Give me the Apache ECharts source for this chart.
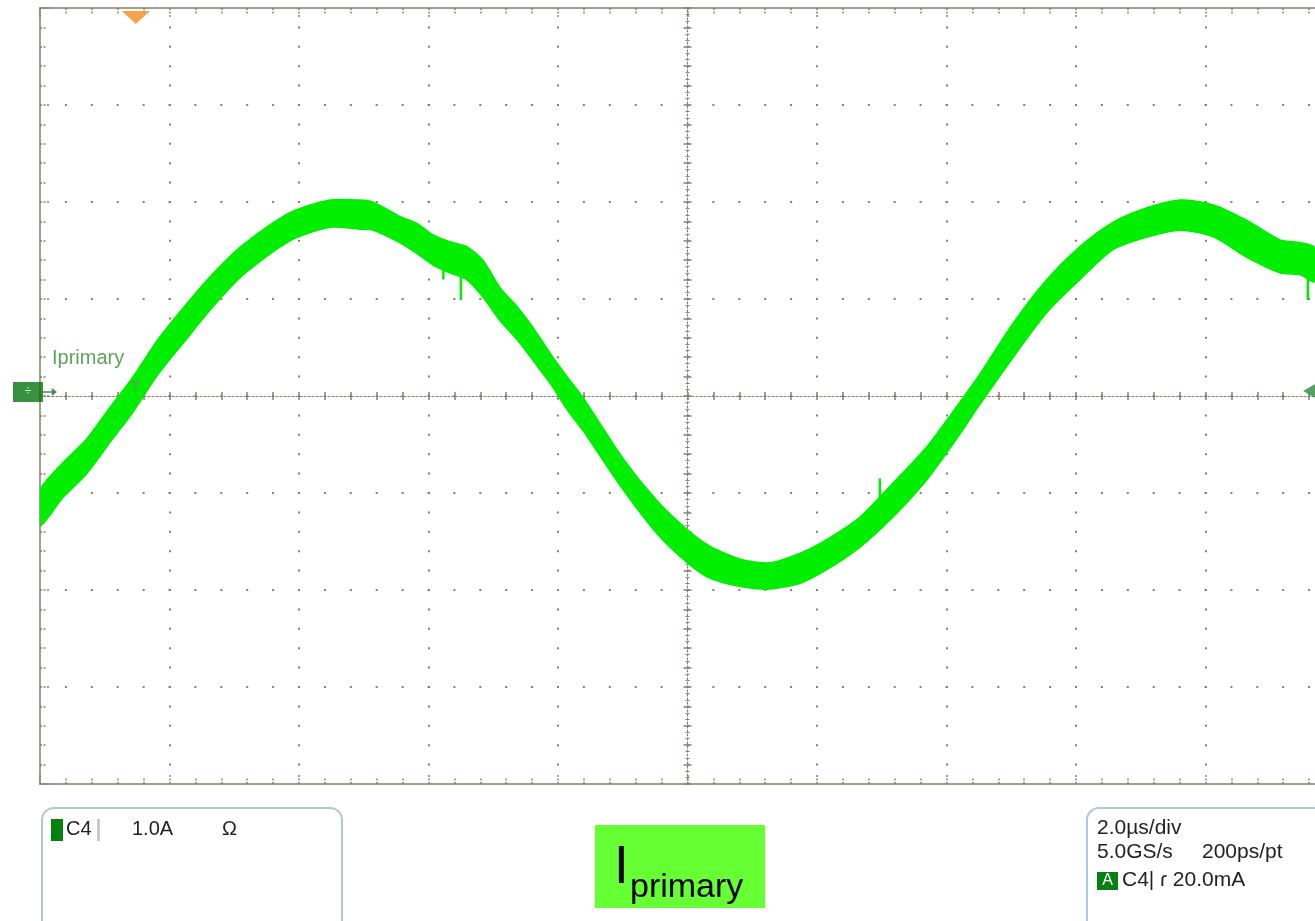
<!DOCTYPE html>
<html>
<head>
<meta charset="utf-8">
<script src="https://cdn.jsdelivr.net/npm/echarts@6.0.0/dist/echarts.min.js"></script>
<style>
  html, body { margin: 0; padding: 0; background: #fff; overflow: hidden; }
  /* the screen grid runs a little past the right edge of the photo */
  #scope { width: 1340px; height: 921px; }
</style>
</head>
<body>
<div id="scope"></div>
<script>
// time in µs (2 µs/div, 0 = screen centre), current in A (1 A/div)
const timeUs = [-10.00, -9.65, -9.29, -8.90, -8.58, -8.18, -7.76, -7.33, -6.86, -6.14,
  -5.52, -5.06, -4.86, -4.44, -4.18, -3.93, -3.67, -3.41, -3.16, -2.90,
  -2.63, -2.39, -2.12, -1.86, -1.61, -1.00, -0.47, 0.00, 0.35, 0.86,
  1.27, 1.74, 2.15, 2.66, 3.17, 3.70, 4.21, 4.47, 5.03, 5.55,
  6.06, 6.57, 7.10, 7.61, 8.12, 8.64, 9.15, 9.46, 9.69];
// upper edge of the noisy trace
const upperA = [-0.97, -0.69, -0.45, -0.10, 0.18, 0.58, 0.93, 1.26, 1.56, 1.89,
  2.02, 2.02, 2.00, 1.85, 1.78, 1.66, 1.59, 1.54, 1.40, 1.12,
  0.92, 0.71, 0.44, 0.20, -0.02, -0.64, -1.08, -1.38, -1.55, -1.69,
  -1.72, -1.62, -1.48, -1.25, -0.90, -0.52, -0.06, 0.18, 0.75, 1.20,
  1.54, 1.79, 1.94, 2.02, 1.97, 1.81, 1.61, 1.58, 1.53];
// lower edge of the noisy trace
const lowerA = [-1.34, -1.05, -0.81, -0.46, -0.18, 0.22, 0.57, 0.92, 1.25, 1.60,
  1.74, 1.72, 1.71, 1.58, 1.47, 1.35, 1.27, 1.20, 1.02, 0.78,
  0.58, 0.37, 0.13, -0.14, -0.36, -0.96, -1.42, -1.72, -1.88, -1.97,
  -1.99, -1.93, -1.79, -1.56, -1.25, -0.86, -0.39, -0.13, 0.40, 0.86,
  1.20, 1.51, 1.64, 1.71, 1.64, 1.43, 1.27, 1.25, 1.18];
// single glitches sticking out of the band
const spikeTimeUs = [-3.77, -3.50, 2.97, 9.58];
const spikeBaseA = [1.48, 1.45, -1.15, 1.40];
const spikeTipA = [1.20, 0.99, -0.85, 0.99];

const triggerTimeUs = -8.52;
const triggerLevelA = 0.02;
const channelName = "Iprimary";
const leftBox = ["C4", "1.0A", "Ω"];
const rightBox = ["2.0µs/div", "5.0GS/s", "200ps/pt", "C4|", "ɾ 20.0mA"];

const GREEN = "#00ee00";
const DOT = "#86806f";
const FONT = "'Liberation Sans', Arial, sans-serif";

const myChart = echarts.init(document.getElementById("scope"));

// border axes, ticks pointing inwards
function borderAxis(pos, isX) {
  return {
    type: "value",
    position: pos,
    min: isX ? -10 : -4,
    max: isX ? 10 : 4,
    interval: isX ? 2 : 1,
    axisLine: { onZero: false, lineStyle: { color: "#a59e8c", width: 2 } },
    axisTick: { inside: true, length: 9, lineStyle: { color: DOT, width: 1.5, type: [2, 1.5] } },
    minorTick: { show: true, splitNumber: 5, length: 6, lineStyle: { color: DOT, width: 1.5, type: [2, 1.5] } },
    axisLabel: { show: false },
    splitLine: { show: false },
  };
}
// the dotted cross through the centre of the screen
function centreAxis(pos, isX, drawLine) {
  return {
    type: "value",
    position: pos,
    min: isX ? -10 : -4,
    max: isX ? 10 : 4,
    interval: isX ? 0.4 : 0.2,
    axisLine: {
      show: drawLine, onZero: true, onZeroAxisIndex: 0,
      lineStyle: { color: DOT, width: 1.2, type: [2, 2] },
    },
    axisTick: { inside: true, length: 4, lineStyle: { color: DOT, width: 1.5 } },
    minorTick: { show: !isX, splitNumber: 3, length: 2, lineStyle: { color: DOT, width: 1 } },
    axisLabel: { show: false },
    splitLine: { show: false },
  };
}

const xMain = borderAxis("bottom", true);
xMain.splitLine = { show: true, lineStyle: { color: DOT, width: 2, type: [2, 17.4], dashOffset: 1 } };
const yMain = borderAxis("left", false);
yMain.splitLine = { show: true, lineStyle: { color: DOT, width: 2, type: [2, 23.9], dashOffset: 1 } };

// fill the band between the upper and lower edge of the trace
function renderTrace(params, api) {
  if (params.dataIndex !== 0) return null;
  const pts = [];
  for (let i = 0; i < timeUs.length; i++) pts.push(api.coord([timeUs[i], upperA[i]]));
  for (let i = timeUs.length - 1; i >= 0; i--) pts.push(api.coord([timeUs[i], lowerA[i]]));
  return {
    type: "polygon",
    shape: { points: pts, smooth: 0.25 },
    style: { fill: GREEN, stroke: GREEN, lineWidth: 1.5 },
  };
}

function renderSpike(params, api) {
  const a = api.coord([api.value(0), api.value(1)]);
  const b = api.coord([api.value(0), api.value(2)]);
  return {
    type: "line",
    shape: { x1: a[0], y1: a[1], x2: b[0], y2: b[1] },
    style: { stroke: GREEN, lineWidth: 2.5 },
  };
}

const option = {
  animation: false,
  backgroundColor: "#fff",
  grid: { left: 40, top: 8, right: 5, height: 776 },
  xAxis: [xMain, borderAxis("top", true), centreAxis("bottom", true, true), centreAxis("top", true, false)],
  yAxis: [yMain, centreAxis("left", false, true), centreAxis("right", false, false)],
  series: [
    {
      type: "custom",
      data: timeUs.map((t, i) => [t, upperA[i], lowerA[i]]),
      encode: { x: 0, y: [1, 2] },
      renderItem: renderTrace,
      clip: true,
      z: 5,
    },
    {
      type: "custom",
      data: spikeTimeUs.map((t, i) => [t, spikeBaseA[i], spikeTipA[i]]),
      encode: { x: 0, y: [1, 2] },
      renderItem: renderSpike,
      clip: true,
      z: 5,
    },
    {
      // trigger position (orange) at the top edge
      type: "scatter",
      clip: false,
      data: [[triggerTimeUs, 4]],
      symbol: "path://M0,0 L28,0 L14,13 Z",
      symbolSize: [28, 13],
      symbolOffset: [0, 9.5],
      itemStyle: { color: "#f5891f" },
      z: 10,
    },
    {
      // trigger point "T"
      type: "scatter",
      data: [[triggerTimeUs, 0.09]],
      symbolSize: 1,
      itemStyle: { color: "transparent" },
      label: { show: true, position: "inside", formatter: "T", color: "#6f8f6f", fontSize: 14, fontWeight: "bold", fontFamily: FONT },
      z: 20,
    },
    {
      // channel ground marker
      type: "scatter",
      clip: false,
      data: [[-10, 0]],
      symbol: "rect",
      symbolSize: [30, 20],
      symbolOffset: [-12, -4],
      itemStyle: { color: "#06750f" },
      label: { show: true, position: "inside", formatter: "÷", color: "#fff", fontSize: 12, fontFamily: FONT },
      z: 10,
    },
    {
      type: "scatter",
      clip: false,
      data: [[-10, 0]],
      symbol: "path://M0,4 L10,4 L10,0 L16,5 L10,10 L10,6 L0,6 Z",
      symbolSize: [14, 8],
      symbolOffset: [10, -4],
      itemStyle: { color: "#1d6e2a" },
      z: 10,
    },
    {
      // trigger level marker on the right
      type: "scatter",
      clip: false,
      data: [[9.6, triggerLevelA]],
      symbol: "path://M12,0 L12,14 L0,7 Z",
      symbolSize: [12, 14],
      symbolOffset: [0, -3],
      itemStyle: { color: "#3e8e4e", opacity: 0.85 },
      z: 10,
    },
  ],
  graphic: [
    { type: "text", left: 52, top: 348, style: { text: channelName, fill: "#5aa55a", font: "20px " + FONT } },
    // left info box
    { type: "rect", shape: { x: 42, y: 808, width: 300, height: 140, r: 12 }, style: { fill: "#fff", stroke: "#aec6de", lineWidth: 2 } },
    { type: "rect", shape: { x: 51, y: 819, width: 12, height: 22 }, style: { fill: "#06800f" } },
    { type: "text", x: 66, y: 829, style: { text: leftBox[0], fill: "#222", font: "20px " + FONT, verticalAlign: "middle" } },
    { type: "rect", shape: { x: 97, y: 819, width: 3, height: 22 }, style: { fill: "#c8c8c8" } },
    { type: "text", x: 132, y: 829, style: { text: leftBox[1], fill: "#222", font: "20px " + FONT, verticalAlign: "middle" } },
    { type: "text", x: 222, y: 829, style: { text: leftBox[2], fill: "#222", font: "20px " + FONT, verticalAlign: "middle" } },
    // right info box
    { type: "rect", shape: { x: 1087, y: 808, width: 260, height: 140, r: 12 }, style: { fill: "#fff", stroke: "#aec6de", lineWidth: 2 } },
    { type: "text", x: 1097, y: 828, style: { text: rightBox[0], fill: "#222", font: "21px " + FONT, verticalAlign: "middle" } },
    { type: "text", x: 1097, y: 852, style: { text: rightBox[1], fill: "#222", font: "21px " + FONT, verticalAlign: "middle" } },
    { type: "text", x: 1202, y: 852, style: { text: rightBox[2], fill: "#222", font: "21px " + FONT, verticalAlign: "middle" } },
    { type: "rect", shape: { x: 1097, y: 872, width: 21, height: 18 }, style: { fill: "#06800f" } },
    { type: "text", x: 1107.5, y: 881, style: { text: "A", fill: "#fff", font: "16px " + FONT, align: "center", verticalAlign: "middle" } },
    { type: "text", x: 1122, y: 880, style: { text: rightBox[3], fill: "#222", font: "21px " + FONT, verticalAlign: "middle" } },
    { type: "text", x: 1160, y: 880, style: { text: rightBox[4], fill: "#222", font: "21px " + FONT, verticalAlign: "middle" } },
    // title tag
    { type: "rect", shape: { x: 595, y: 825, width: 170, height: 83 }, style: { fill: "#66ff33" } },
    { type: "text", x: 614, y: 868, style: { text: "I", fill: "#000", font: "53px " + FONT, verticalAlign: "middle" } },
    { type: "text", x: 630, y: 888, style: { text: "primary", fill: "#000", font: "34px " + FONT, verticalAlign: "middle" } },
  ],
};

myChart.setOption(option);
</script>
</body>
</html>
